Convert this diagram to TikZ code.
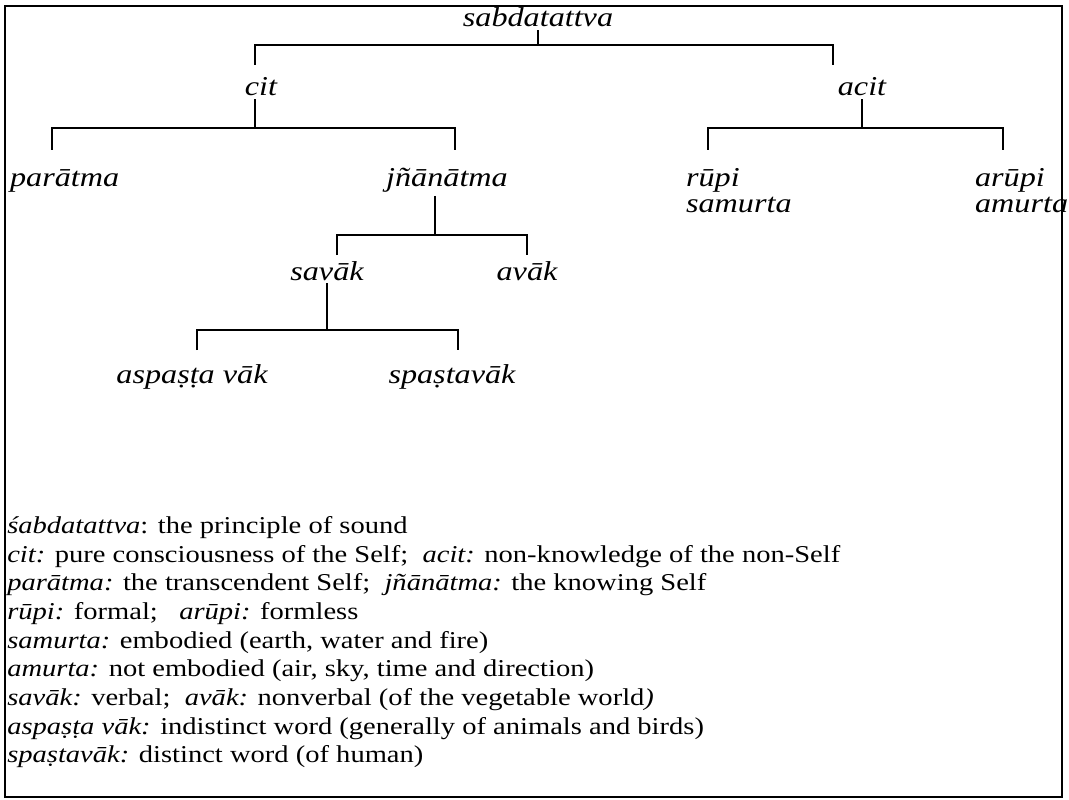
\documentclass[tikz,border=0pt]{standalone}
\usepackage{fontspec}
\setmainfont[FakeStretch=1.18]{Liberation Serif}
\usepackage{tikz}
\usetikzlibrary{positioning,calc}
\tikzset{
  term/.style  ={font=\fontsize{19.4}{17.8}\selectfont\itshape, inner sep=2pt, anchor=base},
  gloss/.style ={font=\fontsize{17.2}{20.4}\selectfont, inner sep=0pt, anchor=base west},
  br/.style    ={line width=1.3pt},
  frm/.style   ={line width=1.8pt},
}

\begin{document}
\begin{tikzpicture}[x=0.025cm,y=-0.025cm]
  \useasboundingbox (0,0) rectangle (1069,800);
  \draw[frm] (5,6) rectangle (1062,797);
  % tree
  \node[term](sabda)  at (538,27) {sabdatattva};
  \node[term](cit)    at (261,96) {cit};
  \node[term](acit)   at (862,96) {acit};
  \node[term,anchor=base west](para)   at (7,187)   {parātma};
  \node[term](jnana)  at (447,187) {jñānātma};
  \node[term,anchor=base west](rupi)   at (683,187) {rūpi};
  \node[term,anchor=base west](samu)   at (683,212) {samurta};
  \node[term,anchor=base west](arupi)  at (972,187) {arūpi};
  \node[term,anchor=base west](amu)    at (972,212) {amurta};
  \node[term](savak)  at (327,280) {savāk};
  \node[term](avak)   at (527,280) {avāk};
  \node[term](aspvak) at (192,383) {aspaṣṭa vāk};
  \node[term](spvak)  at (452,383) {spaṣtavāk};
  \coordinate (d-cit)   at (255,45);
  \coordinate (d-acit)  at (833,45);
  \coordinate (d-para)  at (52,128);
  \coordinate (d-jnana) at (455,128);
  \coordinate (d-rupi)  at (708,128);
  \coordinate (d-arupi) at (1003,128);
  \coordinate (s-jnana) at (435,235);
  \coordinate (d-savak) at (337,235);
  \coordinate (d-avak)  at (527,235);
  \coordinate (s-savak) at (327,330);
  \coordinate (d-aspv)  at (197,330);
  \coordinate (d-spv)   at (458,330);
  \draw[br](sabda.south) -- (sabda.south |- d-cit);
  \draw[br]($(d-cit)+(0,20)$) -- (d-cit) -- (d-acit) -- ++(0,20);
  \draw[br](d-cit |- cit.south) -- (d-cit |- d-para);
  \draw[br]($(d-para)+(0,22)$) -- (d-para) -- (d-jnana) -- ++(0,22);
  \draw[br](acit.south) -- (acit.south |- d-rupi);
  \draw[br]($(d-rupi)+(0,22)$) -- (d-rupi) -- (d-arupi) -- ++(0,22);
  \draw[br](s-jnana |- jnana.south) -- (s-jnana);
  \draw[br]($(d-savak)+(0,20)$) -- (d-savak) -- (d-avak) -- ++(0,20);
  \draw[br](s-savak |- savak.south) -- (s-savak);
  \draw[br]($(d-aspv)+(0,20)$) -- (d-aspv) -- (d-spv) -- ++(0,20);
  % glossary
  \node[gloss](g1) at (7,533) {\textit{śabdatattva}: the principle of sound};
  \node[gloss](g2) at (7,562) {\textit{cit:} pure consciousness of the Self;\ \ \textit{acit:} non-knowledge of the non-Self};
  \node[gloss](g3) at (7,590) {\textit{parātma:} the transcendent Self;\ \ \textit{jñānātma:} the knowing Self};
  \node[gloss](g4) at (7,619) {\textit{rūpi:} formal;\ \ \ \textit{arūpi:} formless};
  \node[gloss](g5) at (7,648) {\textit{samurta:} embodied (earth, water and fire)};
  \node[gloss](g6) at (7,676) {\textit{amurta:} not embodied (air, sky, time and direction)};
  \node[gloss](g7) at (7,705) {\textit{savāk:} verbal;\ \ \textit{avāk:} nonverbal (of the vegetable world\textit{)}};
  \node[gloss](g8) at (7,734) {\textit{aspaṣṭa vāk:} indistinct word (generally of animals and birds)};
  \node[gloss](g9) at (7,762) {\textit{spaṣtavāk:} distinct word (of human)};
\end{tikzpicture}
\end{document}
